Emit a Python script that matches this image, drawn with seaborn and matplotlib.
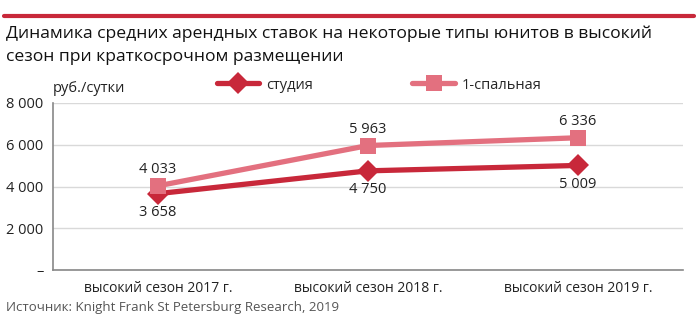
import matplotlib
matplotlib.use("Agg")
import matplotlib.pyplot as plt
import seaborn as sns
import pandas as pd
from matplotlib.lines import Line2D

categories = ["высокий сезон 2017 г.", "высокий сезон 2018 г.", "высокий сезон 2019 г."]
studio = [3658, 4750, 5009]
one_bed = [4033, 5963, 6336]
series_names = ["студия", "1-спальная"]
yticks = [0, 2000, 4000, 6000, 8000]
ytick_labels = ["–", "2 000", "4 000", "6 000", "8 000"]

def fmt(v):
    return f"{v:,}".replace(",", " ")

sns.set_theme(style="white")
plt.rcParams['font.family'] = ['Open Sans', 'DejaVu Sans']

c_studio = "#C8283A"
c_one = "#E3707F"

df = pd.DataFrame({
    "x": list(range(len(categories))) * 2,
    "value": studio + one_bed,
    "series": [series_names[0]] * 3 + [series_names[1]] * 3,
})

fig = plt.figure(figsize=(7, 3.24), dpi=100)
ax = fig.add_axes([53/700, 1-270/324, 630/700, 167/324])

sns.lineplot(data=df, x="x", y="value", hue="series", style="series",
             palette={series_names[0]: c_studio, series_names[1]: c_one},
             markers={series_names[0]: "D", series_names[1]: "s"},
             dashes=False, linewidth=3.8, markersize=11, markeredgewidth=0,
             ax=ax, legend=False, zorder=3)

ax.set_xlim(-0.5, 2.5)
ax.set_ylim(0, 8000)
ax.set_yticks(yticks)
ax.set_yticklabels(ytick_labels, fontsize=10.5, color="#222222")
ax.set_xticks([-0.5, 0.5, 1.5, 2.5])
ax.set_xticklabels([])
ax.set_xticks([0, 1, 2], minor=True)
ax.set_xticklabels(categories, minor=True, fontsize=10, color="#222222")
ax.tick_params(axis="x", which="major", direction="out", length=5, width=1, color="#888888")
ax.tick_params(axis="x", which="minor", length=0, pad=8)
ax.tick_params(axis="y", direction="out", length=5, width=1, color="#888888", pad=2)
ax.set_xlabel("")
ax.set_ylabel("")
ax.grid(axis="y", color="#D9D9D9", linewidth=1)
ax.set_axisbelow(True)
for s in ["top", "right"]:
    ax.spines[s].set_visible(False)
for s in ["left", "bottom"]:
    ax.spines[s].set_color("#888888")
    ax.spines[s].set_linewidth(1.2)

for i, v in enumerate(one_bed):
    ax.annotate(fmt(v), (i, v), xytext=(0, 6), textcoords="offset points",
                ha="center", va="bottom", fontsize=10.5, color="#222222")
for i, v in enumerate(studio):
    ax.annotate(fmt(v), (i, v), xytext=(0, -8), textcoords="offset points",
                ha="center", va="top", fontsize=10.5, color="#222222")

# top red rule
fig.add_artist(Line2D([4/700, 694/700], [1-16/324, 1-16/324], color=c_studio, linewidth=3))
fig.text(6/700, 1-34/324, "Динамика средних арендных ставок на некоторые типы юнитов в высокий",
         fontsize=12.6, va="center", ha="left", color="#111111")
fig.text(6/700, 1-57/324, "сезон при краткосрочном размещении",
         fontsize=12.6, va="center", ha="left", color="#111111")
fig.text(53/700, 1-89/324, "руб./сутки", fontsize=10.5, va="center", ha="left", color="#222222")
fig.text(6/700, 1-308/324, "Источник: Knight Frank St Petersburg Research, 2019",
         fontsize=9.5, va="center", ha="left", color="#555555")

# legend
leg_handles = [
    Line2D([0], [0], color=c_studio, marker="D", markersize=11, linewidth=3.8, markeredgewidth=0),
    Line2D([0], [0], color=c_one, marker="s", markersize=11, linewidth=3.8, markeredgewidth=0),
]
fig.legend(leg_handles, series_names, loc="center", bbox_to_anchor=(0.542, 1-85/324),
           ncol=2, frameon=False, fontsize=10.5, handlelength=2.9, columnspacing=6.8,
           handletextpad=0.5)

fig.savefig("out.png", dpi=100)
